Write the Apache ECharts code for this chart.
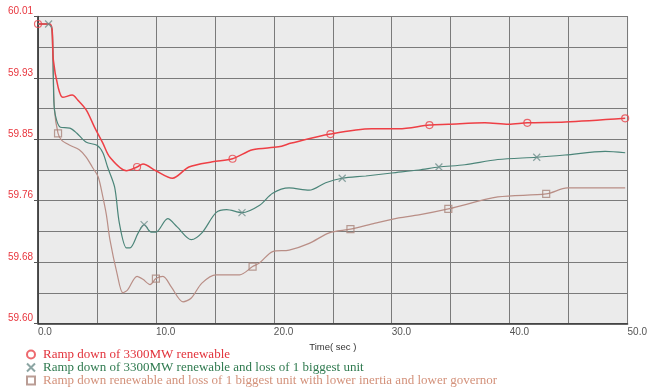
<!DOCTYPE html>
<html><head><meta charset="utf-8">
<script src="https://cdn.jsdelivr.net/npm/echarts@6/dist/echarts.min.js"></script>
<style>html,body{margin:0;padding:0;background:#fff}#c{width:650px;height:387px}</style>
</head><body><div id="c"></div>
<script>
// Series names
const names = [
  'Ramp down of 3300MW renewable',
  'Ramp down of 3300MW renewable and loss of 1 biggest unit',
  'Ramp down renewable and loss of 1 biggest unit with lower inertia and lower governor'
];
// Series 1 (red)
const redT = [0, 1.0, 1.2, 1.3, 1.7, 2.1, 2.9, 3.4, 4.1, 4.8, 5.5, 6.1, 7.5, 8.4, 8.9, 10.0, 11.4, 12.8, 14.8, 16.5, 18.2, 20.4, 21.5, 24.8, 28.3, 30.6, 33.2, 34.8, 37.9, 39.9, 41.5, 44.7, 49.8];
const redF = [60.000, 60.000, 59.992, 59.952, 59.916, 59.902, 59.905, 59.898, 59.885, 59.862, 59.841, 59.822, 59.804, 59.809, 59.813, 59.804, 59.794, 59.809, 59.816, 59.820, 59.832, 59.836, 59.841, 59.853, 59.860, 59.860, 59.865, 59.866, 59.868, 59.866, 59.868, 59.869, 59.874];
const redMarkT = [0, 8.4, 16.5, 24.8, 33.2, 41.5, 49.8];
// Series 2 (teal)
const greenT = [0, 0.9, 1.2, 1.3, 1.4, 1.9, 2.7, 3.3, 4.1, 5.0, 5.5, 5.9, 6.5, 6.9, 7.5, 7.8, 8.5, 9.0, 9.6, 10.0, 11.0, 11.8, 13.0, 13.9, 15.1, 16.0, 17.3, 18.8, 19.9, 21.3, 23.0, 24.4, 25.8, 27.8, 30.0, 32.3, 34.0, 36.2, 39.0, 42.3, 44.7, 48.1, 49.8];
const greenF = [60.000, 60.000, 59.992, 59.929, 59.885, 59.862, 59.861, 59.854, 59.842, 59.838, 59.828, 59.809, 59.782, 59.734, 59.701, 59.701, 59.721, 59.732, 59.722, 59.722, 59.740, 59.729, 59.712, 59.721, 59.748, 59.752, 59.748, 59.758, 59.774, 59.781, 59.778, 59.788, 59.794, 59.797, 59.801, 59.805, 59.809, 59.812, 59.819, 59.822, 59.825, 59.830, 59.828];
const greenMarkT = [0.9, 9.0, 17.3, 25.8, 34.0, 42.3];
// Series 3 (brown)
const brownT = [0, 1.0, 1.2, 1.4, 1.7, 2.0, 2.7, 3.5, 4.1, 4.6, 5.1, 5.5, 5.8, 6.1, 6.7, 7.2, 7.6, 8.4, 8.9, 9.5, 10.0, 10.6, 11.3, 12.3, 13.0, 13.9, 15.1, 17.1, 18.2, 18.8, 19.9, 21.3, 23.0, 24.7, 26.5, 28.6, 30.6, 32.3, 34.8, 39.0, 43.1, 44.9, 47.5, 49.8];
const brownF = [60.000, 60.000, 59.979, 59.885, 59.854, 59.845, 59.838, 59.832, 59.822, 59.809, 59.796, 59.769, 59.745, 59.712, 59.667, 59.641, 59.645, 59.663, 59.659, 59.652, 59.660, 59.663, 59.649, 59.629, 59.634, 59.654, 59.665, 59.665, 59.676, 59.681, 59.696, 59.698, 59.707, 59.721, 59.726, 59.734, 59.741, 59.745, 59.753, 59.769, 59.773, 59.781, 59.781, 59.781];
const brownMarkT = [1.7, 10.0, 18.2, 26.5, 34.8, 43.1];
// Tick labels
const yTickVals = [59.60, 59.682, 59.764, 59.846, 59.928, 60.01];
const xTickVals = [0, 10, 20, 30, 40, 50];
const xName = 'Time( sec )';

function pairs(t, f) { return t.map((x, i) => [x, f[i]]); }
function marks(t, f, m) { return m.map(x => { const i = t.indexOf(x); return [t[i], f[i]]; }); }

const lineCol = ['#ee3f45', '#4b8579', '#b98e86'];
const markCol = ['#e8434a', '#6f8f8c', '#a9857b'];
const textCol = ['#e2323b', '#2f7a4f', '#d3917a'];
const xPath = 'path://M0,0L10,10M10,0L0,10';

const chart = echarts.init(document.getElementById('c'), null, {renderer: 'canvas'});
chart.setOption({
  animation: false,
  backgroundColor: '#fff',
  grid: {left: 38, right: 20, top: 16.5, bottom: 63.5, show: true, backgroundColor: '#ebebeb', borderColor: '#555', borderWidth: 1},
  xAxis: {
    type: 'value', min: 0, max: 50, interval: 5,
    name: xName, nameLocation: 'middle', nameGap: 13,
    nameTextStyle: {fontFamily: 'Liberation Sans', fontSize: 9.5, color: '#333'},
    axisLine: {show: true, lineStyle: {color: '#333', width: 1.5}},
    axisTick: {show: false},
    splitLine: {show: true, lineStyle: {color: '#7a7a7a', width: 1}},
    axisLabel: {customValues: xTickVals, formatter: v => v.toFixed(1), align: 'left', margin: 4,
      color: '#555', fontSize: 10, fontFamily: 'Liberation Sans'}
  },
  yAxis: [{
    type: 'value', min: 59.60, max: 60.01, interval: 0.041,
    axisLine: {show: true, lineStyle: {color: '#333', width: 1.5}},
    axisTick: {show: false},
    splitLine: {show: true, lineStyle: {color: '#7a7a7a', width: 1}},
    axisLabel: {customValues: yTickVals, formatter: v => v.toFixed(2), verticalAlign: 'bottom', margin: 5,
      color: '#e8353d', fontSize: 10, fontFamily: 'Liberation Sans'}
  }, {
    type: 'value', min: 59.60, max: 60.01, position: 'left',
    axisLine: {show: false}, splitLine: {show: false}, axisLabel: {show: false},
    axisTick: {show: true, length: 4, customValues: yTickVals, lineStyle: {color: '#555'}}
  }],
  legend: {
    orient: 'vertical', left: 26, top: 348, padding: 0, itemWidth: 8, itemHeight: 8, itemGap: 0,
    textStyle: {fontFamily: 'Liberation Serif', fontSize: 13, lineHeight: 12.3, padding: [0, 0, 0, 3]},
    data: [
      {name: names[0], icon: 'circle', textStyle: {color: textCol[0]}},
      {name: names[1], icon: xPath, textStyle: {color: textCol[1]}},
      {name: names[2], icon: 'rect', textStyle: {color: textCol[2]}}
    ]
  },
  series: [
    {type: 'line', name: 'l0', data: pairs(redT, redF), smooth: 0.3, symbol: 'none', lineStyle: {color: lineCol[0], width: 1.5}, z: 5},
    {type: 'line', name: 'l1', data: pairs(greenT, greenF), smooth: 0.3, symbol: 'none', lineStyle: {color: lineCol[1], width: 1.2}, z: 4},
    {type: 'line', name: 'l2', data: pairs(brownT, brownF), smooth: 0.3, symbol: 'none', lineStyle: {color: lineCol[2], width: 1.2}, z: 3},
    {type: 'scatter', name: names[0], data: marks(redT, redF, redMarkT), symbol: 'circle', symbolSize: 7,
      itemStyle: {color: 'rgba(0,0,0,0)', borderColor: markCol[0], borderWidth: 1.2}, z: 6},
    {type: 'scatter', name: names[1], data: marks(greenT, greenF, greenMarkT), symbol: xPath, symbolSize: 7,
      itemStyle: {color: 'rgba(0,0,0,0)', borderColor: markCol[1], borderWidth: 1.2}, z: 6},
    {type: 'scatter', name: names[2], data: marks(brownT, brownF, brownMarkT), symbol: 'rect', symbolSize: 7,
      itemStyle: {color: 'rgba(0,0,0,0)', borderColor: markCol[2], borderWidth: 1.2}, z: 6}
  ]
});
</script></body></html>
